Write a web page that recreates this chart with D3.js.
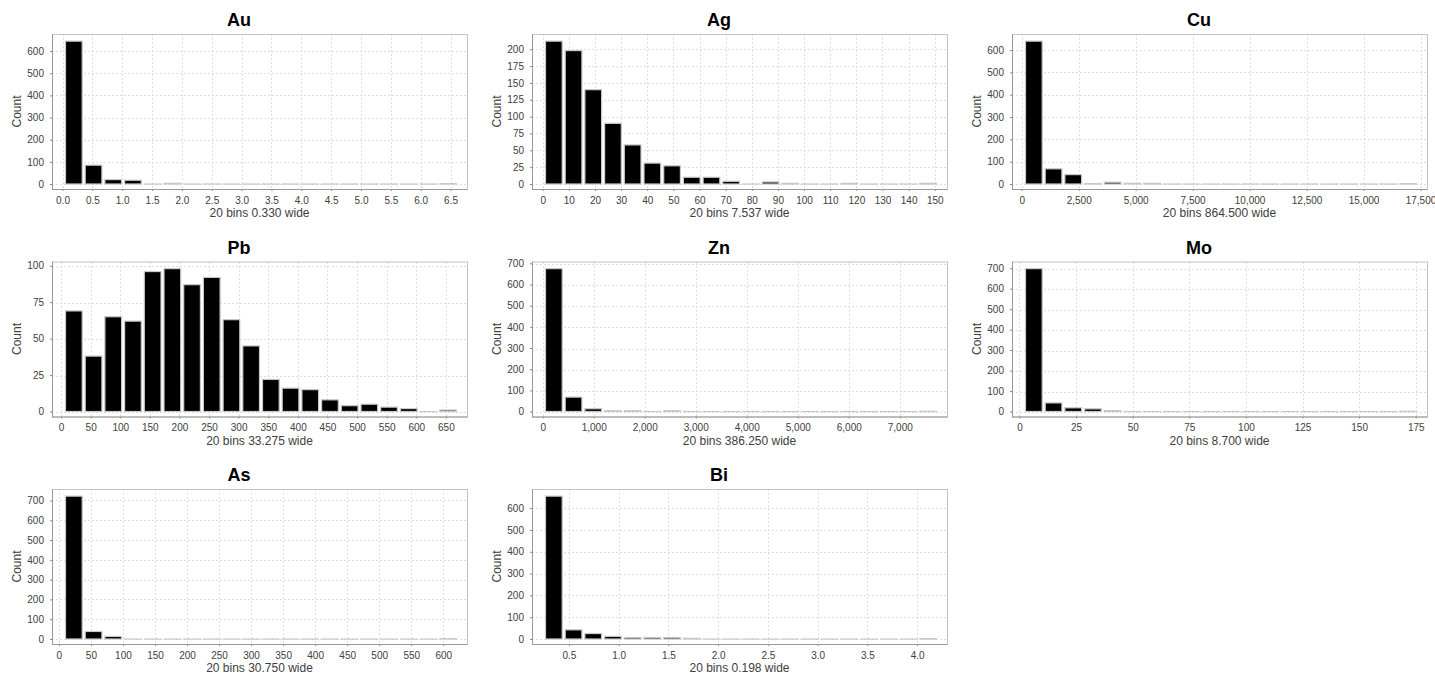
<!DOCTYPE html>
<html>
<head>
<meta charset="utf-8">
<script src="https://cdn.jsdelivr.net/npm/d3@7"></script>
<style>
body { margin: 0; background: #fff; }
svg { display: block; font-family: "Liberation Sans", Arial, sans-serif; }
.grid line { stroke: #dedede; stroke-dasharray: 2,2; shape-rendering: crispEdges; }
.axis text { font-size: 10px; fill: #404040; }
.axis line { stroke: #888; }
.axis path { display: none; }
</style>
</head>
<body>
<div id="chart"></div>
<script>
// element names, in grid order
var elements = ["Au", "Ag", "Cu", "Pb", "Zn", "Mo", "As", "Bi"];

// histogram bins: start value and width of each of the 20 bins
var binStart = [0.025, 0.5, 100, 5, 25, 2, 8, 0.25];
var binWidth = [0.330, 7.537, 864.5, 33.275, 386.25, 8.7, 30.75, 0.198];

// counts per bin
var auCounts = [645, 85, 20, 17, 0, 3, 0, 0, 0, 0, 0, 0, 0, 0, 0, 0, 0, 0, 0, 1];
var agCounts = [212, 198, 140, 90, 58, 31, 27, 10, 10, 4, 0, 3, 1, 0, 0, 1, 0, 0, 0, 1];
var cuCounts = [640, 68, 42, 2, 8, 3, 3, 0, 0, 0, 0, 0, 0, 0, 0, 0, 0, 0, 0, 1];
var pbCounts = [69, 38, 65, 62, 96, 98, 87, 92, 63, 45, 22, 16, 15, 8, 4, 5, 3, 2, 0, 1];
var znCounts = [675, 68, 13, 3, 3, 0, 3, 0, 0, 0, 0, 0, 0, 0, 0, 0, 0, 0, 0, 1];
var moCounts = [698, 42, 18, 13, 4, 0, 0, 0, 0, 0, 0, 0, 0, 0, 0, 0, 0, 0, 0, 1];
var asCounts = [722, 38, 13, 0, 0, 0, 0, 0, 0, 0, 0, 0, 0, 0, 0, 0, 0, 0, 0, 1];
var biCounts = [655, 42, 25, 12, 7, 7, 7, 3, 0, 0, 0, 0, 0, 0, 0, 0, 0, 0, 0, 1];
var counts = [auCounts, agCounts, cuCounts, pbCounts, znCounts, moCounts, asCounts, biCounts];

// tick values
var auTicks = [0, 0.5, 1, 1.5, 2, 2.5, 3, 3.5, 4, 4.5, 5, 5.5, 6, 6.5];
var agTicks = [0, 10, 20, 30, 40, 50, 60, 70, 80, 90, 100, 110, 120, 130, 140, 150];
var cuTicks = [0, 2500, 5000, 7500, 10000, 12500, 15000, 17500];
var pbTicks = [0, 50, 100, 150, 200, 250, 300, 350, 400, 450, 500, 550, 600, 650];
var znTicks = [0, 1000, 2000, 3000, 4000, 5000, 6000, 7000];
var moTicks = [0, 25, 50, 75, 100, 125, 150, 175];
var asTicks = [0, 50, 100, 150, 200, 250, 300, 350, 400, 450, 500, 550, 600];
var biTicks = [0.5, 1, 1.5, 2, 2.5, 3, 3.5, 4];
var xTicks = [auTicks, agTicks, cuTicks, pbTicks, znTicks, moTicks, asTicks, biTicks];
var xFormats = [".1f", "d", ",", "d", ",", "d", "d", ".1f"];
var yStep = [100, 25, 100, 25, 100, 100, 100, 100];

var W = 1435, H = 675;
var cellW = 480, cellH = 227.5;
var plotLeft = 52, plotTop = 34, plotW = 415, plotH = 155;

var svg = d3.select("#chart").append("svg")
    .attr("width", W)
    .attr("height", H);

elements.forEach(function(name, i) {
  var col = i % 3, row = Math.floor(i / 3);
  var cx = col * cellW, cy = row * cellH;
  var data = counts[i];
  var start = binStart[i], w = binWidth[i];

  var bins = data.map(function(c, k) {
    return {x0: start + k * w, x1: start + (k + 1) * w, count: c};
  });

  var g = svg.append("g")
      .attr("transform", "translate(" + (cx + plotLeft) + "," + (cy + plotTop) + ")");

  var x = d3.scaleLinear()
      .domain([start, start + data.length * w])
      .range([12, plotW - 9]);

  var yMax = d3.max(data) * 1.05;
  var y = d3.scaleLinear()
      .domain([0, yMax])
      .range([plotH - 5, 0]);

  var yTickVals = d3.range(0, yMax, yStep[i]);

  // title
  svg.append("text")
      .attr("x", cx + 239)
      .attr("y", cy + plotTop - 8)
      .attr("text-anchor", "middle")
      .style("font-size", "18px")
      .style("font-weight", "bold")
      .text(name);

  // grid
  var grid = g.append("g").attr("class", "grid");
  grid.selectAll(".gx").data(xTicks[i]).enter().append("line")
      .attr("x1", function(d) { return Math.round(x(d)) + 0.5; })
      .attr("x2", function(d) { return Math.round(x(d)) + 0.5; })
      .attr("y1", 0).attr("y2", plotH);
  grid.selectAll(".gy").data(yTickVals).enter().append("line")
      .attr("y1", function(d) { return Math.round(y(d)) + 0.5; })
      .attr("y2", function(d) { return Math.round(y(d)) + 0.5; })
      .attr("x1", 0).attr("x2", plotW);

  // plot outline
  g.append("rect")
      .attr("x", 0.5).attr("y", 0.5)
      .attr("width", plotW).attr("height", plotH)
      .attr("fill", "none")
      .attr("stroke", "#c4c4c4");

  // bars
  g.selectAll(".bar").data(bins).enter().append("rect")
      .attr("class", "bar")
      .attr("x", function(d) { return x(d.x0) + 1.5; })
      .attr("width", function(d) { return x(d.x1) - x(d.x0) - 3; })
      .attr("y", function(d) { return y(d.count); })
      .attr("height", function(d) { return Math.max(0.01, y(0) - y(d.count)); })
      .attr("fill", "#000")
      .attr("stroke", "#c8c8c8")
      .attr("stroke-width", 1.2);

  // axes
  g.append("g")
      .attr("class", "axis")
      .attr("transform", "translate(0," + plotH + ")")
      .call(d3.axisBottom(x).tickValues(xTicks[i]).tickSize(2).tickPadding(5.5)
        .tickFormat(d3.format(xFormats[i])));

  g.append("g")
      .attr("class", "axis")
      .call(d3.axisLeft(y).tickValues(yTickVals).tickSize(2).tickPadding(6)
        .tickFormat(d3.format("d")));

  g.append("line")
      .attr("x1", 0.5).attr("x2", 0.5)
      .attr("y1", 0).attr("y2", plotH + 0.5)
      .attr("stroke", "#999");
  g.append("line")
      .attr("x1", 0).attr("x2", plotW + 0.5)
      .attr("y1", plotH + 0.5).attr("y2", plotH + 0.5)
      .attr("stroke", "#999");

  // axis labels
  g.append("text")
      .attr("transform", "translate(-31," + (plotH / 2) + ") rotate(-90)")
      .attr("text-anchor", "middle")
      .style("font-size", "12px")
      .style("fill", "#404040")
      .text("Count");

  g.append("text")
      .attr("x", plotW / 2)
      .attr("y", plotH + 28)
      .attr("text-anchor", "middle")
      .style("font-size", "12px")
      .style("fill", "#404040")
      .text(data.length + " bins " + d3.format(".3f")(w) + " wide");
});
</script>
</body>
</html>
